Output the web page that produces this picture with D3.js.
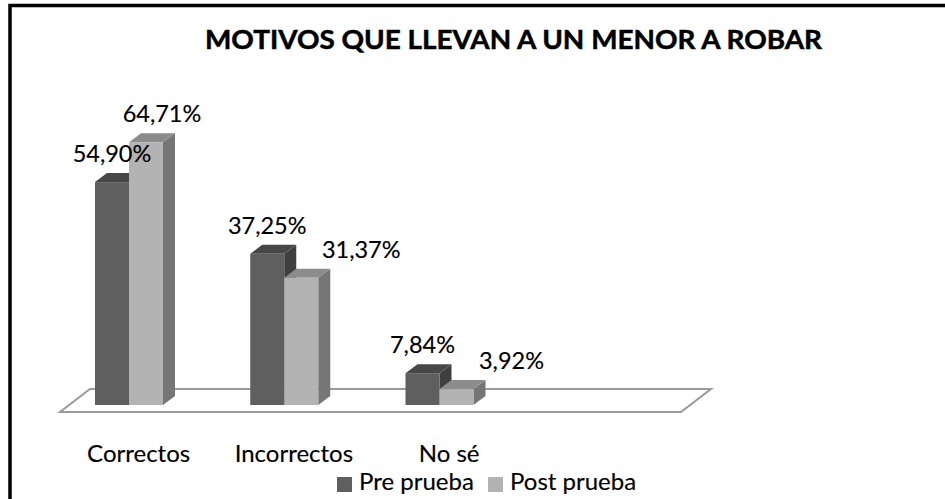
<!DOCTYPE html>
<html><head><meta charset="utf-8">
<script src="https://cdn.jsdelivr.net/npm/d3@7"></script>
<style>
html,body{margin:0;padding:0;background:#fff;}
svg{display:block;}
text{font-family:Lato,"Liberation Sans",Arial,sans-serif;fill:#000;stroke:#000;stroke-width:0.15px;}
</style></head>
<body>
<script>
const title = "MOTIVOS QUE LLEVAN A UN MENOR A ROBAR";
const categories = ["Correctos", "Incorrectos", "No sé"];
const seriesNames = ["Pre prueba", "Post prueba"];
const prePrueba = [54.90, 37.25, 7.84];
const postPrueba = [64.71, 31.37, 3.92];
const valueLabelsPre = ["54,90%", "37,25%", "7,84%"];
const valueLabelsPost = ["64,71%", "31,37%", "3,92%"];

// style / layout
const W = 945, H = 499;
const faceColors = [
  {front:"#5f5f5f", top:"#474747", side:"#3f3f3f"},
  {front:"#b3b3b3", top:"#8c8c8c", side:"#767676"}
];
const postLabelDx = [16, 60, 55];

const svg = d3.select("body").append("svg").attr("width", W).attr("height", H);

// outer border (extends beyond right/bottom)
svg.append("rect").attr("x", 10).attr("y", 5.5).attr("width", 1000).attr("height", 1000)
  .attr("fill", "#fff").attr("stroke", "#000").attr("stroke-width", 3.5);

// title
svg.append("text").attr("x", 513.5).attr("y", 49).attr("text-anchor", "middle")
  .style("font-weight", "bold").style("font-size", "27px").style("stroke-width", "0.5px")
  .attr("textLength", 617).attr("lengthAdjust", "spacingAndGlyphs")
  .text(title);

const x = d3.scaleBand().domain([...categories, "_"]).range([60, 681]);
const y = d3.scaleLinear().domain([0, 70]).range([405, 405 - 70 * 4.06]);

// floor
const floorFront = 412, fdx = 30, fdy = 23;
const [fx0, fx1] = x.range();
svg.append("path")
  .attr("d", `M${fx0},${floorFront}L${fx1},${floorFront}L${fx1 + fdx},${floorFront - fdy}L${fx0 + fdx},${floorFront - fdy}Z`)
  .attr("fill", "#fff").attr("stroke", "#9a9a9a").attr("stroke-width", 2);

const barW = 34, groupOffset = 35, ddx = 12, ddy = 9;
const series = [prePrueba, postPrueba];

categories.forEach((c, i) => {
  series.forEach((vals, s) => {
    const x0 = x(c) + groupOffset + s * barW, x1 = x0 + barW;
    const top = y(vals[i]), base = y(0);
    const col = faceColors[s];
    const g = svg.append("g");
    g.append("path").attr("d", `M${x1},${top}L${x1 + ddx},${top - ddy}L${x1 + ddx},${base - ddy}L${x1},${base}Z`)
      .attr("fill", col.side);
    g.append("path").attr("d", `M${x0},${top}L${x1},${top}L${x1 + ddx},${top - ddy}L${x0 + ddx},${top - ddy}Z`)
      .attr("fill", col.top);
    g.append("rect").attr("x", x0).attr("y", top).attr("width", barW).attr("height", base - top)
      .attr("fill", col.front);
  });
});

// value labels
categories.forEach((c, i) => {
  const xp = x(c) + groupOffset;
  svg.append("text").attr("x", xp + barW / 2).attr("y", y(prePrueba[i]) - 20)
    .attr("text-anchor", "middle").style("font-size", "23.5px").text(valueLabelsPre[i]);
  svg.append("text").attr("x", xp + barW * 1.5 + postLabelDx[i]).attr("y", y(postPrueba[i]) - 20)
    .attr("text-anchor", "middle").style("font-size", "23.5px").text(valueLabelsPost[i]);
});

// category labels
categories.forEach(c => {
  svg.append("text").attr("x", x(c) + x.bandwidth() / 2 + 1).attr("y", 462)
    .attr("text-anchor", "middle").style("font-size", "24px").text(c);
});

// legend
const legX = [337, 488];
seriesNames.forEach((n, s) => {
  svg.append("rect").attr("x", legX[s]).attr("y", 477).attr("width", 15).attr("height", 15)
    .attr("fill", faceColors[s].front);
  svg.append("text").attr("x", legX[s] + 22).attr("y", 490).style("font-size", "24px").text(n);
});
</script>
</body></html>
